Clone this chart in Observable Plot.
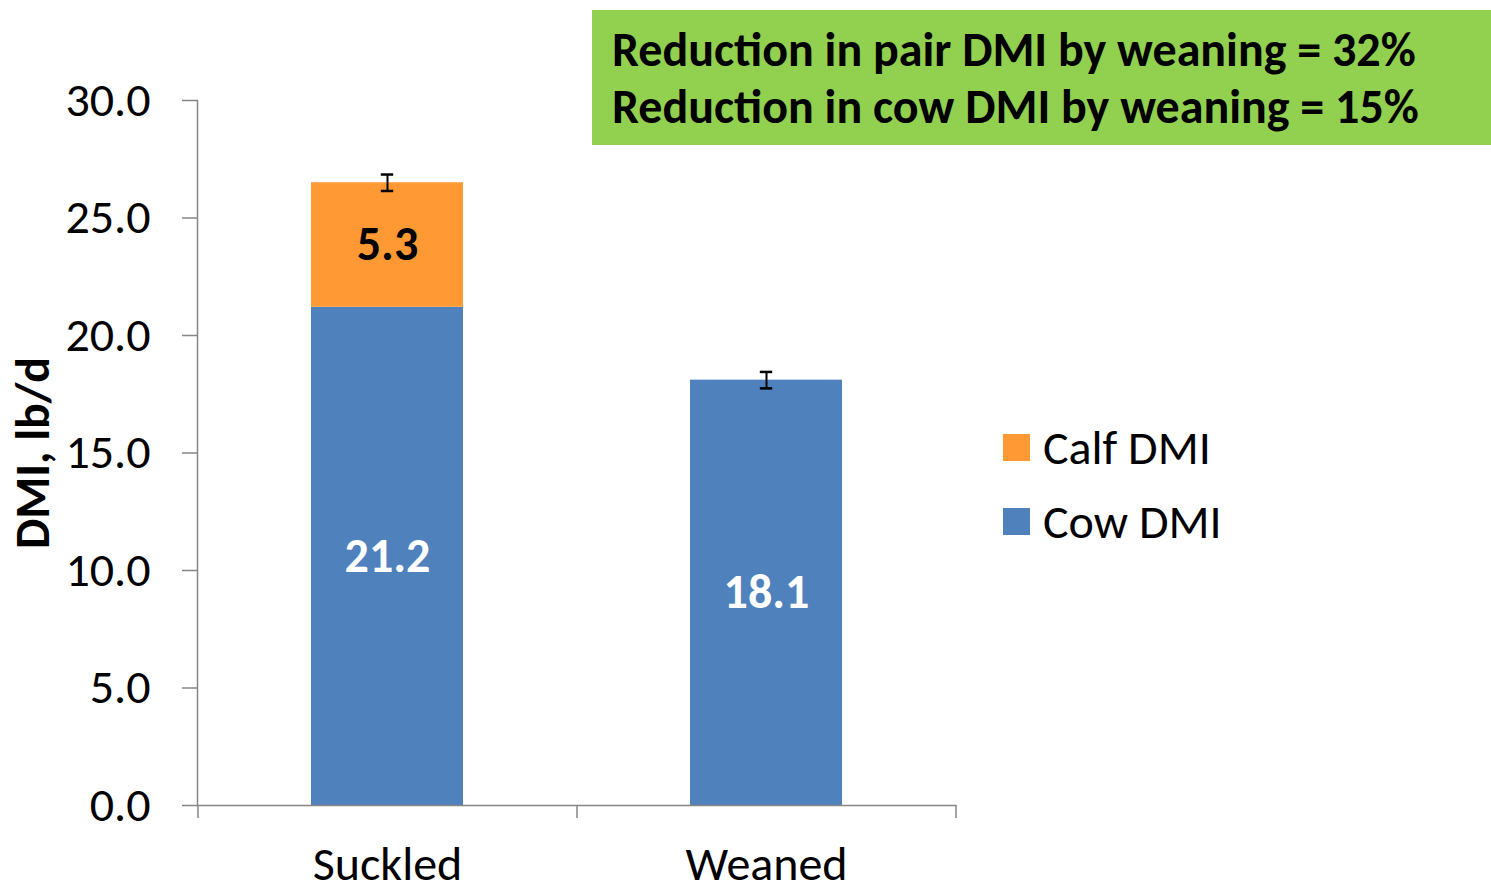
<!DOCTYPE html>
<html>
<head>
<meta charset="utf-8">
<script src="https://cdn.jsdelivr.net/npm/d3@7"></script>
<script src="https://cdn.jsdelivr.net/npm/@observablehq/plot@0.6"></script>
<style>
  html, body { margin: 0; padding: 0; background: #fff; }
  #wrap { position: relative; width: 1491px; height: 884px; font-family: Carlito, "Open Sans", sans-serif; }
  #note { position: absolute; left: 592px; top: 10px; width: 899px; height: 135px; background: #92D050;
          box-sizing: border-box; padding: 11px 0 0 20px; font-weight: bold; font-size: 48px; line-height: 57px; color: #000; white-space: nowrap; }
  #legend { position: absolute; left: 1003px; top: 434px; }
  .row { display: flex; align-items: center; height: 27px; margin-bottom: 47px; font-size: 48px; line-height: 27px; color: #000; white-space: nowrap; }
  .sw { width: 27px; height: 27px; margin-right: 13px; flex: none; }
</style>
</head>
<body>
<div id="wrap"></div>
<script>
const categories = ["Suckled", "Weaned"];
const cowDMI = [21.2, 18.1];
const calfDMI = [5.3, null];
const pairSE = [0.35, 0.35];
const yTicks = [0, 5, 10, 15, 20, 25, 30];
const seriesNames = ["Cow DMI", "Calf DMI"];
const seriesColors = ["#4F81BD", "#FF9933"];
const legendOrder = ["Calf DMI", "Cow DMI"];
const yLabel = "DMI, lb/d";
const noteLines = ["Reduction in pair DMI by weaning = 32%", "Reduction in cow DMI by weaning = 15%"];

// long table for stacked bars
const rows = [];
categories.forEach((c, i) => {
  rows.push({cat: c, series: "Cow DMI", value: cowDMI[i], mid: cowDMI[i] / 2});
  if (calfDMI[i] != null) rows.push({cat: c, series: "Calf DMI", value: calfDMI[i], mid: cowDMI[i] + calfDMI[i] / 2});
});
const errs = categories.map((c, i) => {
  const total = cowDMI[i] + (calfDMI[i] || 0);
  return {cat: c, lo: total - pairSE[i], hi: total + pairSE[i]};
});

const W = 1491, H = 884, mL = 197, mR = 536, mT = 100, mB = 79;
const pIn = 0.6, pOut = 0.3;
const step = (W - mL - mR) / (categories.length - pIn + 2 * pOut);
const bw = step * (1 - pIn);
const capInset = (bw - 12) / 2;
const axisGray = "#868686";
const FS = 48;

const chart = Plot.plot({
  width: W, height: H,
  marginLeft: mL, marginRight: mR, marginTop: mT, marginBottom: mB,
  style: {fontFamily: "Carlito, 'Open Sans', sans-serif", fontSize: FS + "px", color: "#000", background: "transparent", overflow: "visible"},
  x: {domain: categories, paddingInner: pIn, paddingOuter: pOut},
  y: {domain: [0, 30]},
  color: {domain: seriesNames, range: seriesColors},
  marks: [
    Plot.barY(rows, Plot.stackY({x: "cat", y: "value", fill: "series", order: seriesNames})),
    Plot.text(rows.filter(d => d.series === "Cow DMI"), {x: "cat", y: "mid", text: d => d.value.toFixed(1), fill: "white", fontWeight: "bold", fontSize: FS}),
    Plot.text(rows.filter(d => d.series === "Calf DMI"), {x: "cat", y: "mid", text: d => d.value.toFixed(1), fill: "black", fontWeight: "bold", fontSize: FS}),
    Plot.ruleX(errs, {x: "cat", y1: "lo", y2: "hi", stroke: "black", strokeWidth: 2}),
    Plot.tickY(errs, {x: "cat", y: "lo", stroke: "black", strokeWidth: 2.5, insetLeft: capInset, insetRight: capInset}),
    Plot.tickY(errs, {x: "cat", y: "hi", stroke: "black", strokeWidth: 2.5, insetLeft: capInset, insetRight: capInset}),
    Plot.frame({anchor: "left", stroke: axisGray, strokeWidth: 1.5}),
    Plot.frame({anchor: "bottom", stroke: axisGray, strokeWidth: 1.5}),
    Plot.axisY(yTicks, {tickSize: 15, tickPadding: 32, tickFormat: d => d.toFixed(1), stroke: axisGray, strokeWidth: 1.5, fontSize: FS, label: null}),
    Plot.axisX({tickSize: 0, tickPadding: 40, fontSize: FS, label: null}),
    Plot.axisX(categories, {tickSize: 13, tickFormat: () => "", dx: -step / 2, stroke: axisGray, strokeWidth: 1.5, label: null}),
    Plot.axisX([categories[categories.length - 1]], {tickSize: 13, tickFormat: () => "", dx: step / 2, stroke: axisGray, strokeWidth: 1.5, label: null}),
    Plot.text([yLabel], {text: d => d, frameAnchor: "left", textAnchor: "middle", lineAnchor: "middle", dx: -164, rotate: -90, fontWeight: "bold", fontSize: FS, fill: "black"})
  ]
});

const wrap = document.getElementById("wrap");
wrap.appendChild(chart);

const note = document.createElement("div");
note.id = "note";
noteLines.forEach(t => { const d = document.createElement("div"); d.textContent = t; note.appendChild(d); });
wrap.appendChild(note);

const legend = document.createElement("div");
legend.id = "legend";
legendOrder.forEach(name => {
  const r = document.createElement("div"); r.className = "row";
  const sw = document.createElement("div"); sw.className = "sw";
  sw.style.background = seriesColors[seriesNames.indexOf(name)];
  const t = document.createElement("span"); t.textContent = name;
  r.appendChild(sw); r.appendChild(t); legend.appendChild(r);
});
wrap.appendChild(legend);
</script>
</body>
</html>
